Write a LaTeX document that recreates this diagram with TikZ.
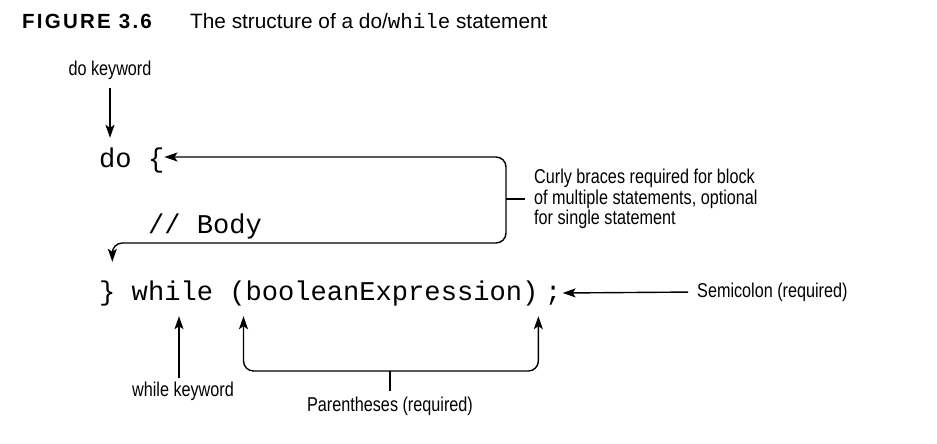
\documentclass[tikz,border=0pt]{standalone}
\usepackage{fontspec}
\setmainfont{Liberation Sans}
\newfontfamily\codefont{Liberation Mono}
\newfontfamily\lblfont[FakeStretch=0.81]{Liberation Sans}
\usetikzlibrary{arrows.meta}
\newcommand{\cw}{16.27}

\begin{document}
\begin{tikzpicture}[x=1pt,y=-1pt,
    code/.style={inner sep=0pt,anchor=base west,text height=20pt,text depth=6pt,
      font=\codefont\fontsize{27.1}{30}\selectfont},
    lbl/.style={inner sep=0pt,font=\lblfont\fontsize{20}{20.5}\selectfont},
    arr/.style={-{Stealth[length=13pt,width=9pt,inset=3pt]},line width=1.4pt},
    arrboth/.style={{Stealth[length=13pt,width=9pt,inset=3pt]}-{Stealth[length=13pt,width=9pt,inset=3pt]},line width=1.4pt}]
    \useasboundingbox (0,0) rectangle (937,444);
    \node[anchor=base west,inner sep=0pt,font=\bfseries\addfontfeature{LetterSpace=11}\fontsize{20.5}{22}\selectfont] (fig) at (22,29) {FIGURE 3.6};
    \node[anchor=base west,inner sep=0pt,font=\fontsize{20.8}{22}\selectfont] (title) at (190,29) {The structure of a do/{\codefont while} statement};

    \node[code] (kwdo) at (99,167) {do};
    \node[code] (lbrace) at ({99+3*\cw},167) {\{};
    \node[code] (body) at ({99+3*\cw},233) {// Body};
    \node[code] (rbrace) at (99,300) {\}};
    \node[code] (kwwhile) at ({99+2*\cw},300) {while};
    \node[code] (lparen) at ({99+8*\cw},300) {(};
    \node[code] (expr) at ({99+9*\cw},300) {booleanExpression};
    \node[code] (rparen) at ({99+26*\cw},300) {)};
    \node[code] (semi) at (545,300) {;};

    \node[lbl] (dolbl) at (110,70) {do keyword};
    \node[lbl] (whilelbl) at (183,391) {while keyword};
    \node[lbl] (parenlbl) at (390,406) {Parentheses (required)};
    \node[lbl,anchor=west] (semilbl) at (697,292) {Semicolon (required)};
    \node[lbl,anchor=west,align=left] (bracelbl) at (534,199) {Curly braces required for block\\of multiple statements, optional\\for single statement};

    \coordinate (loop) at (506,243);
    \coordinate (bracket) at (390,371);

    \draw[arr,shorten <=8pt,shorten >=9pt] (dolbl.south) -- (dolbl.south |- kwdo.north);
    \draw[arrboth,rounded corners=10pt,shorten >=18pt] ([yshift=3pt]lbrace.east) -| (loop) -| ([xshift=5pt]rbrace.north);
    \draw[line width=1.4pt,shorten >=9pt] (bracelbl.west -| loop) -- (bracelbl.west);
    \draw[arr,shorten <=9pt] (semilbl.west) -- ([xshift=1pt]semi.east);
    \draw[arr,shorten <=3pt,shorten >=10pt] ([xshift=-4pt]whilelbl.north) -- ([xshift=-4pt]whilelbl.north |- kwwhile.south);
    \draw[arrboth,rounded corners=10pt,shorten <=10pt,shorten >=10pt] ([xshift=6pt]lparen.south) |- (bracket) -| ([xshift=8pt]rparen.south);
    \draw[line width=1.4pt,shorten >=5pt] (bracket) -- (parenlbl.north);
\end{tikzpicture}
\end{document}
